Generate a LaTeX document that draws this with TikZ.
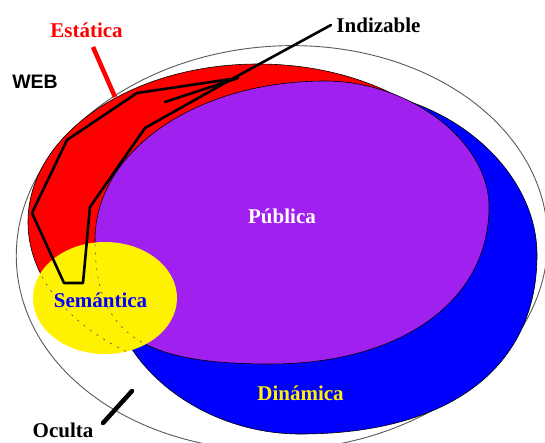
\documentclass[tikz,border=0pt]{standalone}
\usepackage{fontspec}
\setmainfont{Liberation Serif}
\newfontfamily\websans{Liberation Sans}
\definecolor{pur}{RGB}{160,32,240}
\definecolor{webline}{RGB}{90,90,90}
\newcommand{\purplepath}{(95,240) .. controls (95,151) and (196,81) .. (325,81)
  .. controls (410,81) and (489,141.5) .. (489,207)
  .. controls (489,301) and (401,364) .. (270,364)
  .. controls (139,364) and (95,333) .. cycle}
\begin{document}
\begin{tikzpicture}[x=1pt,y=-1pt,
  lbl/.style={font=\fontsize{21}{24}\selectfont\bfseries, inner sep=0pt, anchor=base},
  region/.style={draw=black, line width=0.6pt},
  remnant/.style={draw=black!70, line width=0.6pt, dash pattern=on 2pt off 6pt},
  leader/.style={line width=2.6pt, line join=round, line cap=round}]
\useasboundingbox (0,0) rectangle (545,442);
\clip (0,0) rectangle (545,442);
\fill[white] (0,0) rectangle (545,442);
% WEB outer ellipse
\begin{scope}[shift={(282,248)},rotate=4]
  \draw[webline, line width=0.9pt] (0,0) ellipse [x radius=266pt, y radius=202pt];
\end{scope}
% Estatica (red); its lower part is hidden by the other regions
\begin{scope}
  \clip (0,0) rectangle (545,347);
  \filldraw[region, fill=red] (258,222) ellipse [x radius=230pt, y radius=158pt];
\end{scope}
% Dinamica (blue)
\filldraw[region, fill=blue] (340,90) .. controls (444.4,90) and (537,167.5) .. (537,255)
  .. controls (537,367.8) and (449.3,434) .. (300,434)
  .. controls (199.3,434) and (110,361.6) .. (110,280)
  .. controls (110,175.5) and (213.5,90) .. cycle;
% Publica (purple)
\filldraw[region, fill=pur] \purplepath;
% Semantica (yellow)
\fill[yellow] (105,298) ellipse [x radius=72pt, y radius=56pt];
\begin{scope}
  \clip (105,298) ellipse [x radius=72pt, y radius=56pt];
  \draw[remnant] \purplepath;
  \draw[remnant] (258,222) ellipse [x radius=230pt, y radius=158pt];
\end{scope}
% labels
\node[font=\websans\fontsize{19.5}{22}\selectfont\bfseries, inner sep=0pt, anchor=base] (web) at (35,88) {WEB};
\node[lbl, text=red] (est) at (86.5,37) {Estática};
\node[lbl] (ind) at (378.5,32) {Indizable};
\node[lbl, text=white] (pub) at (282,223) {Pública};
\node[lbl, text=blue] (sem) at (100.5,307) {Semántica};
\node[lbl, text=yellow] (din) at (300.5,400) {Dinámica};
\node[lbl] (ocu) at (63,437) {Oculta};
% leader lines
\coordinate (estA) at (93,47);
\coordinate (estB) at (115,97);
\draw[red, line width=4.5pt] (estA) -- (estB);
\coordinate (indA) at (331,25);
\coordinate (indEnd) at (165,102);
\draw[leader] (indA) -- (232,79) -- (145,128) -- (90,207) -- (83,283) -- (64,283)
  -- (32,213) -- (67,140) -- (137,93) -- (238,78) -- (indEnd);
\coordinate (ocA) at (103,423);
\coordinate (ocB) at (132,391);
\draw[line width=4.5pt, line cap=round] (ocA) -- (ocB);
\end{tikzpicture}
\end{document}
